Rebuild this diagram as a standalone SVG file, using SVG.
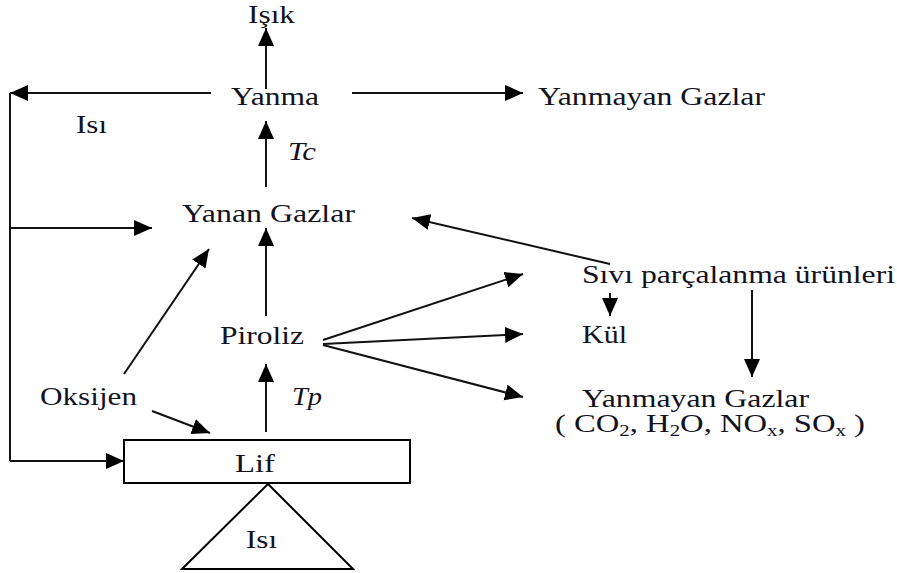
<svg xmlns="http://www.w3.org/2000/svg" width="897" height="573" viewBox="0 0 897 573">
<defs>
<marker id="ah" markerUnits="userSpaceOnUse" markerWidth="20" markerHeight="18" refX="18" refY="8" orient="auto">
<path d="M0,0 L18,8 L0,16 Z" fill="#000"/>
</marker>
<style>
text{font-family:"Liberation Serif","Times New Roman",serif;font-size:25px;fill:#121220}
.i{font-style:italic}
.c{stroke:#111;stroke-width:2;fill:none}
.a{marker-end:url(#ah)}
</style>
</defs>
<rect width="897" height="573" fill="#fff"/>
<g id="connectors">
<line class="c a" x1="266" y1="89" x2="266" y2="28"/>
<polyline class="c a" points="211,93 10,93"/>
<line class="c" x1="10" y1="93" x2="10" y2="461"/>
<line class="c a" x1="352" y1="93" x2="523" y2="93"/>
<line class="c a" x1="266" y1="187" x2="266" y2="121"/>
<line class="c a" x1="10" y1="228" x2="152" y2="228"/>
<line class="c a" x1="266" y1="316" x2="266" y2="228"/>
<line class="c a" x1="610" y1="264" x2="412" y2="218"/>
<line class="c a" x1="124" y1="374" x2="209" y2="249"/>
<line class="c a" x1="152" y1="411" x2="210" y2="433"/>
<line class="c a" x1="266" y1="432" x2="266" y2="364"/>
<line class="c a" x1="10" y1="461" x2="124" y2="461"/>
<line class="c a" x1="323" y1="340" x2="523" y2="274"/>
<line class="c a" x1="323" y1="344" x2="523" y2="334"/>
<line class="c a" x1="323" y1="345" x2="523" y2="397"/>
<line class="c a" x1="610" y1="293" x2="610" y2="316"/>
<line class="c a" x1="752" y1="290" x2="752" y2="377"/>
</g>
<g id="isik"><text x="248" y="23" textLength="47" lengthAdjust="spacingAndGlyphs">Işık</text></g>
<g id="yanma"><text x="231" y="105" textLength="88" lengthAdjust="spacingAndGlyphs">Yanma</text></g>
<g id="yanmayan1"><text x="538" y="105" textLength="227" lengthAdjust="spacingAndGlyphs">Yanmayan Gazlar</text></g>
<g id="isi1"><text x="76" y="133" textLength="31" lengthAdjust="spacingAndGlyphs">Isı</text></g>
<g id="tc"><text class="i" x="288" y="160" textLength="28" lengthAdjust="spacingAndGlyphs">Tc</text></g>
<g id="yanan"><text x="182" y="222" textLength="173" lengthAdjust="spacingAndGlyphs">Yanan Gazlar</text></g>
<g id="sivi"><text x="582" y="283" textLength="313" lengthAdjust="spacingAndGlyphs">Sıvı parçalanma ürünleri</text></g>
<g id="piroliz"><text x="220" y="344" textLength="84" lengthAdjust="spacingAndGlyphs">Piroliz</text></g>
<g id="kul"><text x="582" y="343" textLength="45" lengthAdjust="spacingAndGlyphs">Kül</text></g>
<g id="oksijen"><text x="40" y="405" textLength="97" lengthAdjust="spacingAndGlyphs">Oksijen</text></g>
<g id="tp"><text class="i" x="292" y="405" textLength="30" lengthAdjust="spacingAndGlyphs">Tp</text></g>
<g id="yanmayan2">
<text x="582" y="407" textLength="227" lengthAdjust="spacingAndGlyphs">Yanmayan Gazlar</text>
<text x="555" y="432" textLength="310" lengthAdjust="spacingAndGlyphs">( CO<tspan font-size="16" dy="4">2</tspan><tspan dy="-4">, H</tspan><tspan font-size="16" dy="4">2</tspan><tspan dy="-4">O, NO</tspan><tspan font-size="16" dy="4">x</tspan><tspan dy="-4">, SO</tspan><tspan font-size="16" dy="4">x</tspan><tspan dy="-4"> )</tspan></text>
</g>
<g id="lif">
<rect x="124" y="440" width="286" height="43" fill="#fff" stroke="#000" stroke-width="2"/>
<text x="235" y="472" textLength="40" lengthAdjust="spacingAndGlyphs">Lif</text>
</g>
<g id="isi2">
<polygon points="268,484 182,569 353,569" fill="#fff" stroke="#000" stroke-width="2"/>
<text x="246" y="548" textLength="31" lengthAdjust="spacingAndGlyphs">Isı</text>
</g>
</svg>
